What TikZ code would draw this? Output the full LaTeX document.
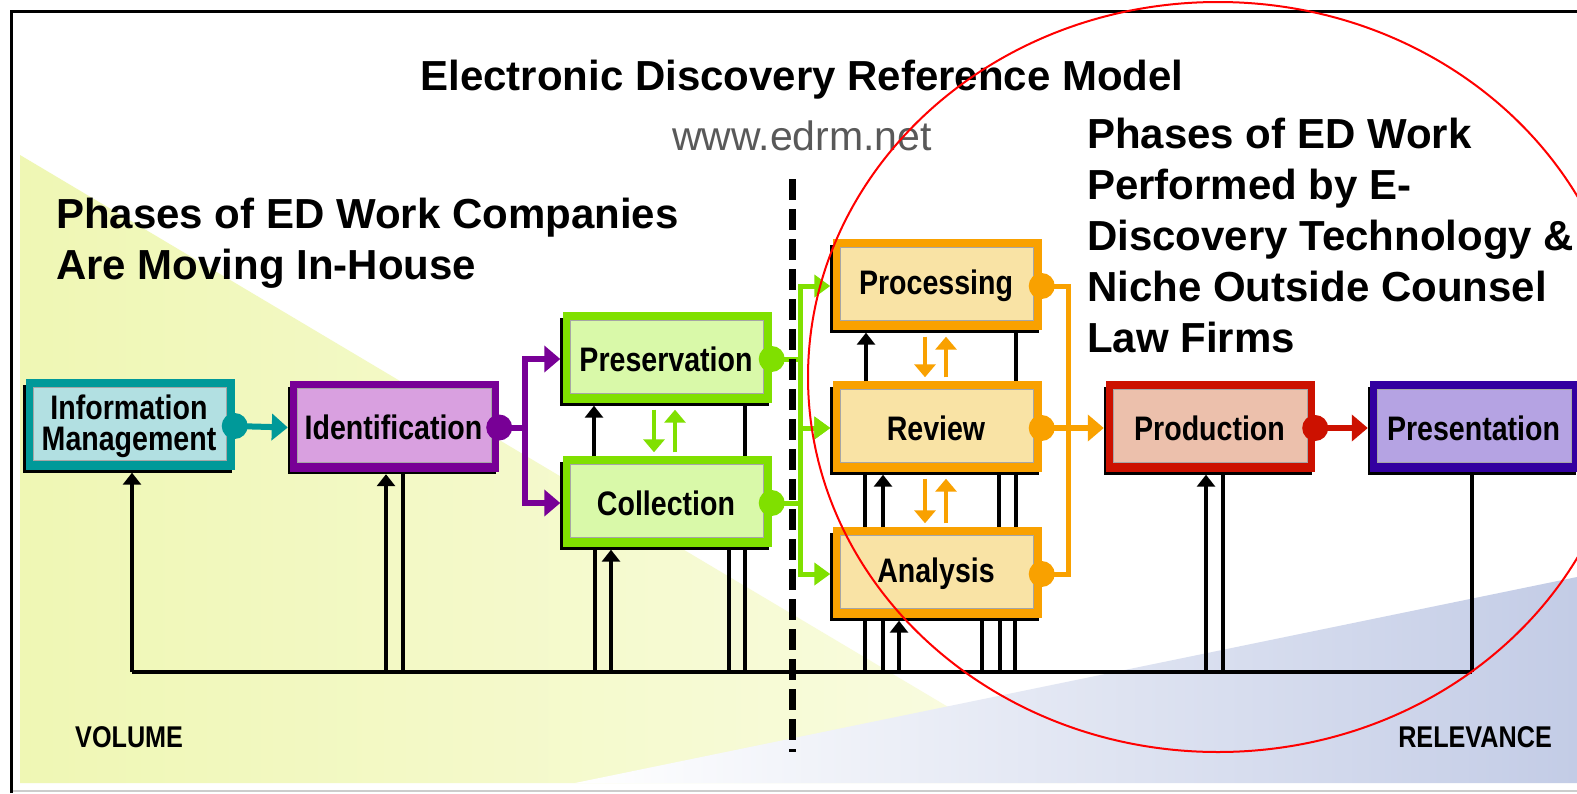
\documentclass[tikz,border=0pt]{standalone}
\usepackage{fontspec}
\setmainfont{Liberation Sans}
\newfontfamily\condf[FakeStretch=0.84]{Liberation Sans}
\newfontfamily\titlef[FakeStretch=1.0]{Liberation Sans}
\usetikzlibrary{arrows.meta,calc}
\pgfdeclarelayer{back}
\pgfdeclarelayer{boxes}
\pgfdeclarelayer{front}
\pgfsetlayers{back,boxes,main,front}
\definecolor{tealF}{HTML}{009999}
\definecolor{tealL}{HTML}{B2E0E2}
\definecolor{purpF}{HTML}{780096}
\definecolor{purpL}{HTML}{D9A0E0}
\definecolor{greenF}{HTML}{80E000}
\definecolor{greenL}{HTML}{D9F9A9}
\definecolor{orangeF}{HTML}{F9A100}
\definecolor{orangeL}{HTML}{F9E3A5}
\definecolor{redF}{HTML}{CC1100}
\definecolor{redL}{HTML}{ECC0AC}
\definecolor{indF}{HTML}{3300A0}
\definecolor{indL}{HTML}{B5A3E3}
\definecolor{yelL}{HTML}{EFF7B4}
\definecolor{yelR}{HTML}{FAFCE4}
\definecolor{bluR}{HTML}{C3CCE6}
\newcommand\edframe[3]{%
  \begin{pgfonlayer}{boxes}
    \draw[line width=2.5pt, black] ($(#1.north west)+(1.25,6)$) -- ($(#1.south west)+(1.25,-1.25)$) -- ($(#1.south east)+(-3,-1.25)$);
    \fill[#2] ($(#1.south west)+(2.5,-2.5)$) rectangle (#1.north east);
    \filldraw[fill=#3, draw=gray!70, line width=1pt] ($(#1.south west)+(10,-12)$) rectangle ($(#1.north east)+(-8,8)$);
  \end{pgfonlayer}}
\begin{document}
\begin{tikzpicture}[x=1pt,y=-1pt,
  edbox/.style={minimum width=211pt, minimum height=93pt, inner sep=0pt, align=center,
    font=\condf\bfseries\fontsize{34}{31}\selectfont},
  conn/.style={line width=6pt, draw=#1, -{Triangle[length=16pt,width=26pt]}},
  gconn/.style={line width=5pt, draw=greenF, -{Triangle[length=16pt,width=22pt]}},
  oline/.style={line width=5pt, draw=orangeF},
  smallarr/.style={line width=4pt, draw=#1, shorten <=4pt, shorten >=4pt, -{Triangle[length=13pt,width=21pt]}},
  blk/.style={line width=3.2pt, black},
  blkarrow/.style={blk, -{Triangle[length=12pt,width=18pt]}},
  bigtext/.style={inner sep=0pt, align=left, font=\bfseries\fontsize{42}{51}\selectfont},
  axislabel/.style={inner sep=0pt, font=\condf\bfseries\fontsize{30}{36}\selectfont}
]
\useasboundingbox (0,0) rectangle (1577,793);
\begin{pgfonlayer}{back}
  \fill[white] (0,0) rectangle (1577,793);
  \shade[left color=yelL, right color=yelR] (20,155) -- (20,783) -- (1076,783) -- cycle;
  \shade[left color=white, right color=bluR] (575,783) -- (1577,783) -- (1577,577) -- cycle;
  \draw[black, line width=3pt] (11,793) -- (11,11) -- (1577,11);
  \draw[gray!40, line width=1.5pt] (13,791) -- (1577,791);
\end{pgfonlayer}

% texts
\node[anchor=base, inner sep=0pt, font=\titlef\bfseries\fontsize{42}{48}\selectfont] (title) at (802,90) {Electronic Discovery Reference Model};
\node[anchor=base, inner sep=0pt, font=\fontsize{41}{48}\selectfont, text=black!65] (url) at (802,150) {www.edrm.net};
\node[bigtext, anchor=base west] (lefttxt) at (56,279) {Phases of ED Work Companies\\Are Moving In-House};
\node[bigtext, anchor=base west] (righttxt) at (1087,352) {Phases of ED Work\\Performed by E-\\Discovery Technology \&\\Niche Outside Counsel\\Law Firms};
\node[axislabel, anchor=base west] (vol) at (75,747) {VOLUME};
\node[axislabel, anchor=base east] (rel) at (1552,747) {RELEVANCE};

% boxes
\node[edbox] (info) at (129,426) {Information\\Management};
\node[edbox] (ident) at (393.5,427.5) {Identification};
\node[edbox] (pres) at (666,359) {Preservation};
\node[edbox] (coll) at (666,503) {Collection};
\node[edbox] (proc) at (936,286) {Processing};
\node[edbox] (review) at (936,428) {Review};
\node[edbox] (analysis) at (936,574) {Analysis};
\node[edbox] (prod) at (1209.5,428) {Production};
\node[edbox] (present) at (1473.5,428) {Presentation};
\edframe{info}{tealF}{tealL}
\edframe{ident}{purpF}{purpL}
\edframe{pres}{greenF}{greenL}
\edframe{coll}{greenF}{greenL}
\edframe{proc}{orangeF}{orangeL}
\edframe{review}{orangeF}{orangeL}
\edframe{analysis}{orangeF}{orangeL}
\edframe{prod}{redF}{redL}
\edframe{present}{indF}{indL}

% black bus and verticals
\coordinate (busL) at (132,672);
\coordinate (busR) at (1472,672);
\draw[blk] (busL) -- (busR);
\draw[blkarrow] ([xshift=3pt]info.south |- busL) -- ([xshift=3pt]info.south);
\draw[blkarrow] ([xshift=-7.5pt]ident.south |- busL) -- ([xshift=-7.5pt]ident.south);
\draw[blk] ([xshift=9.5pt]ident.south) -- ([xshift=9.5pt]ident.south |- busL);
\draw[blk] ([xshift=-71pt]coll.south) -- ([xshift=-71pt]coll.south |- busL);
\draw[blkarrow] ([xshift=-55pt]coll.south |- busL) -- ([xshift=-55pt]coll.south);
\draw[blk] ([xshift=63pt]coll.south) -- ([xshift=63pt]coll.south |- busL);
\draw[blk] ([xshift=79pt]coll.south) -- ([xshift=79pt]coll.south |- busL);
\draw[blkarrow] ([xshift=-72pt]coll.north) -- ([xshift=-72pt]pres.south);
\draw[blk] ([xshift=79pt]pres.south) -- ([xshift=79pt]coll.north);
\draw[blkarrow] ([xshift=-70pt]review.north) -- ([xshift=-70pt]proc.south);
\draw[blk] ([xshift=80pt]proc.south) -- ([xshift=80pt]review.north);
\draw[blk] ([xshift=-71pt]review.south) -- ([xshift=-71pt]analysis.north);
\draw[blkarrow] ([xshift=-53pt]analysis.north) -- ([xshift=-53pt]review.south);
\draw[blk] ([xshift=63pt]review.south) -- ([xshift=63pt]analysis.north);
\draw[blk] ([xshift=80pt]review.south) -- ([xshift=80pt]analysis.north);
\draw[blk] ([xshift=-71pt]analysis.south) -- ([xshift=-71pt]analysis.south |- busL);
\draw[blk] ([xshift=-53pt]analysis.south) -- ([xshift=-53pt]analysis.south |- busL);
\draw[blkarrow] ([xshift=-37pt]analysis.south |- busL) -- ([xshift=-37pt]analysis.south);
\draw[blk] ([xshift=46pt]analysis.south) -- ([xshift=46pt]analysis.south |- busL);
\draw[blk] ([xshift=64pt]analysis.south) -- ([xshift=64pt]analysis.south |- busL);
\draw[blk] ([xshift=79pt]analysis.south) -- ([xshift=79pt]analysis.south |- busL);
\draw[blkarrow] ([xshift=-3.5pt]prod.south |- busL) -- ([xshift=-3.5pt]prod.south);
\draw[blk] ([xshift=13.5pt]prod.south) -- ([xshift=13.5pt]prod.south |- busL);
\draw[blk] ([xshift=-1.5pt]present.south) -- (busR);

% small between-box arrows
\draw[smallarr=greenF] ([xshift=-12pt]pres.south) -- ([xshift=-12pt]coll.north);
\draw[smallarr=greenF] ([xshift=9pt]coll.north) -- ([xshift=9pt]pres.south);
\draw[smallarr=orangeF] ([xshift=-11pt]proc.south) -- ([xshift=-11pt]review.north);
\draw[smallarr=orangeF] ([xshift=10pt]review.north) -- ([xshift=10pt]proc.south);
\draw[smallarr=orangeF] ([xshift=-11pt]review.south) -- ([xshift=-11pt]analysis.north);
\draw[smallarr=orangeF] ([xshift=10pt]analysis.north) -- ([xshift=10pt]review.south);

% coloured connectors
\draw[conn=tealF] (info.east) -- (ident.west);
\draw[conn=purpF] (ident.east) -- ++(26,0) |- (pres.west);
\draw[conn=purpF] (ident.east) -- ++(26,0) |- (coll.west);
\draw[gconn] (pres.east) -- ++(29,0) |- (proc.west);
\draw[gconn] (pres.east) -- ++(29,0) |- (review.west);
\draw[gconn] (coll.east) -- ++(29,0) |- (review.west);
\draw[gconn] (coll.east) -- ++(29,0) |- (analysis.west);
\draw[oline] (proc.east) -- ++(27,0) |- (analysis.east);
\draw[conn=orangeF] (review.east) -- (prod.west);
\draw[conn=redF] (prod.east) -- (present.west);
% connector dots
\fill[tealF] (info.east) circle (13);
\fill[purpF] (ident.east) circle (13);
\fill[greenF] (pres.east) circle (13);
\fill[greenF] (coll.east) circle (13);
\fill[orangeF] (proc.east) circle (13);
\fill[orangeF] (review.east) circle (13);
\fill[orangeF] (analysis.east) circle (13);
\fill[redF] (prod.east) circle (13);

% dashed divider
\coordinate (divtop) at (792,179);
\coordinate (divbot) at (792,752);
\draw[black, line width=7pt, dash pattern=on 21pt off 9pt] (divtop) -- (divbot);

\begin{pgfonlayer}{front}
  \draw[red, line width=2pt] (1218,377) ellipse [x radius=410, y radius=375];
\end{pgfonlayer}
\end{tikzpicture}
\end{document}
